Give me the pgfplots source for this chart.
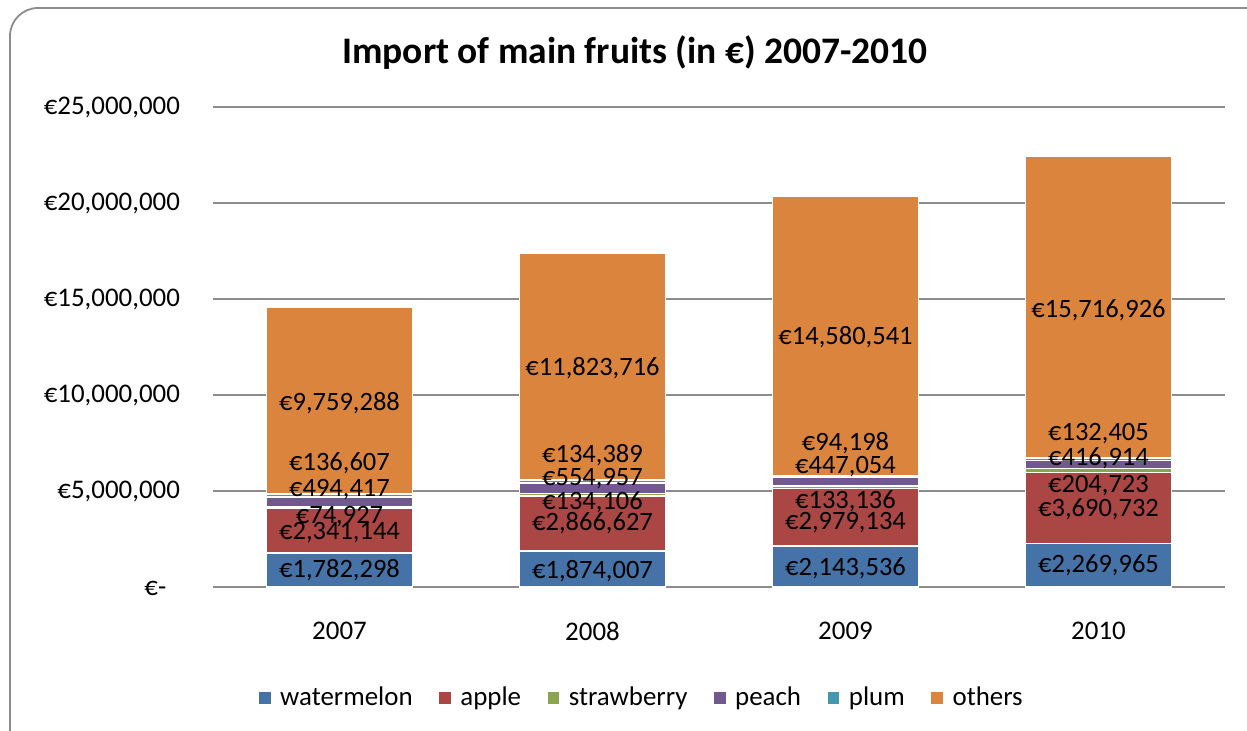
\documentclass[border=0pt]{standalone}
\usepackage{fontspec}
\setmainfont{Carlito}
\usepackage{pgfplots}
\pgfplotsset{compat=1.18}
\usepackage{pgfplotstable}
\definecolor{cWM}{HTML}{4572A7}
\definecolor{cAP}{HTML}{AA4643}
\definecolor{cST}{HTML}{89A54E}
\definecolor{cPE}{HTML}{71588F}
\definecolor{cPL}{HTML}{4198AF}
\definecolor{cOT}{HTML}{DB843D}
\definecolor{cGrid}{HTML}{8C8C8C}

\pgfplotstableread{
x wm ap st pe pl ot
0 1782298 2341144 74927 494417 136607 9759288
1 1874007 2866627 134106 554957 134389 11823716
2 2143536 2979134 133136 447054 94198 14580541
3 2269965 3690732 204723 416914 132405 15716926
}\data

\pgfplotstableread{
x y label
0 885000 €1,782,298
0 2860000 €2,341,144
0 3650000 €74,927
0 5050000 €494,417
0 6460000 €136,607
0 9580000 €9,759,288
1 830000 €1,874,007
1 3330000 €2,866,627
1 4430000 €134,106
1 5630000 €554,957
1 6880000 €134,389
1 11400000 €11,823,716
2 990000 €2,143,536
2 3330000 €2,979,134
2 4480000 €133,136
2 6250000 €447,054
2 7500000 €94,198
2 13000000 €14,580,541
3 1110000 €2,269,965
3 4050000 €3,690,732
3 5280000 €204,723
3 6720000 €416,914
3 8000000 €132,405
3 14430000 €15,716,926
}\labels

\begin{document}
\begin{tikzpicture}
\clip (0bp,0bp) rectangle (623.5bp,-365.5bp);
\draw[cGrid, line width=0.9bp, rounded corners=14bp] (5bp,-380bp) -- (5bp,-4bp) -- (635bp,-4bp);
\node[font=\bfseries\fontsize{18.8}{22}\selectfont] at (317.5bp,-26.5bp) {Import of main fruits (in €) 2007-2010};
\begin{axis}[
  at={(106.5bp,-293.5bp)}, anchor=south west,
  width=506bp, height=240bp, scale only axis,
  xmin=-0.5, xmax=3.5, ymin=0, ymax=25000000,
  ybar stacked, bar width=0.576,
  axis line style={draw=none}, tick style={draw=none},
  ymajorgrids, grid style={color=cGrid, line width=0.6bp},
  ytick={0,5000000,10000000,15000000,20000000,25000000},
  yticklabels={{€-\phantom{0}},{€5,000,000},{€10,000,000},{€15,000,000},{€20,000,000},{€25,000,000}},
  xtick={0,1,2,3}, xticklabels={2007,2008,2009,2010},
  ticklabel style={font=\fontsize{13.5}{16}\selectfont},
  yticklabel style={xshift=-13bp},
  xticklabel style={yshift=-14bp},
  scaled y ticks=false,
  legend columns=-1,
  legend style={at={(0.424,-0.231)}, anchor=center, draw=none, fill=none,
    font=\fontsize{13.5}{16}\selectfont,
    /tikz/every odd column/.append style={column sep=2bp},
    /tikz/every even column/.append style={column sep=10.5bp}},
  legend image code/.code={\fill[#1] (0bp,-3.3bp) rectangle (6.6bp,3.3bp);},
  every axis plot/.append style={draw=white, line width=0.8bp},
]
\addplot[fill=cWM] table[x=x,y=wm]{\data};
\addlegendentry{watermelon}
\addplot[fill=cAP] table[x=x,y=ap]{\data};
\addlegendentry{apple}
\addplot[fill=cST] table[x=x,y=st]{\data};
\addlegendentry{strawberry}
\addplot[fill=cPE] table[x=x,y=pe]{\data};
\addlegendentry{peach}
\addplot[fill=cPL] table[x=x,y=pl]{\data};
\addlegendentry{plum}
\addplot[fill=cOT] table[x=x,y=ot]{\data};
\addlegendentry{others}
\end{axis}
\begin{axis}[
  at={(106.5bp,-293.5bp)}, anchor=south west,
  width=506bp, height=240bp, scale only axis,
  xmin=-0.5, xmax=3.5, ymin=0, ymax=25000000,
  hide axis,
]
\addplot[only marks, mark=*, mark size=0pt, mark options={draw=none, fill=none},
  nodes near coords, point meta=explicit symbolic,
  every node near coord/.append style={anchor=center, inner sep=0pt, font=\fontsize{13.3}{15}\selectfont, text=black}]
  table[x=x,y=y,meta=label]{\labels};
\end{axis}
\end{tikzpicture}
\end{document}
